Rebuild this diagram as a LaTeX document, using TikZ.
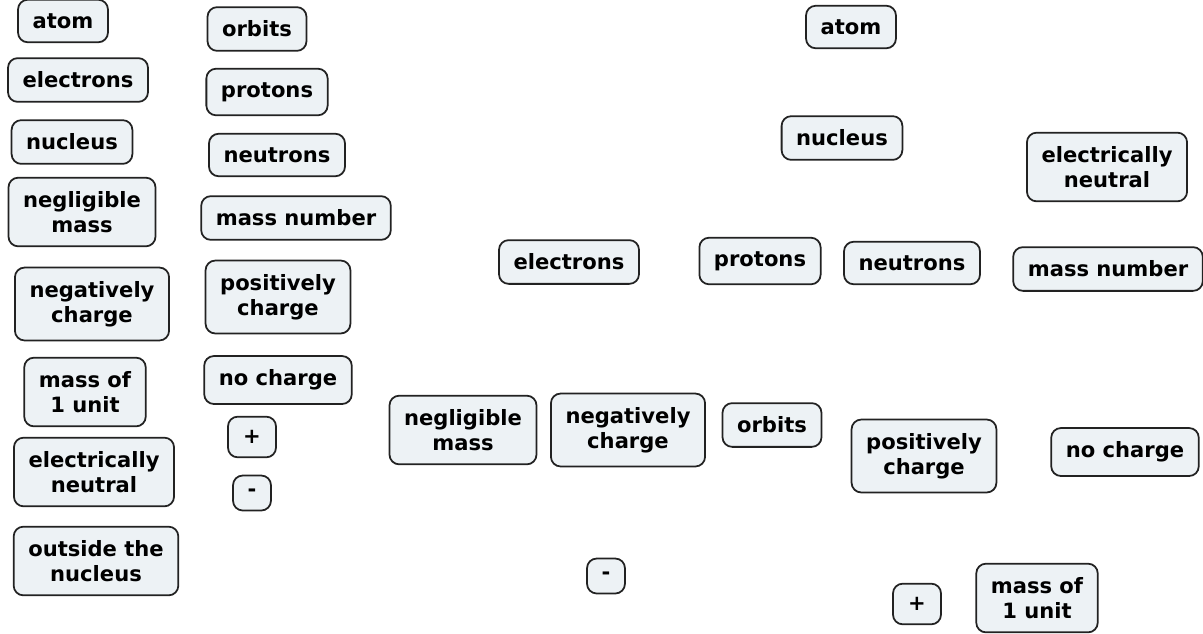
\documentclass[tikz,border=0pt]{standalone}
\usepackage{fontspec}
\setmainfont{DejaVu Sans}
\usepackage{tikz}
\definecolor{cardfill}{HTML}{EDF2F5}
\definecolor{cardline}{HTML}{222222}
\tikzset{
  card/.style={draw=cardline, line width=1pt, fill=cardfill, rounded corners=5.5pt,
    inner xsep=8.3pt, inner ysep=7.8pt, align=center,
    font=\bfseries\fontsize{12}{14.2}\selectfont},
  signcard/.style={card, minimum width=0.96cm, minimum height=0.8cm}
}

\begin{document}
\begin{tikzpicture}[x=0.02cm, y=-0.02cm]
\useasboundingbox (0,0) rectangle (1203,633);
% word list, first column
\node[card] (atomL) at (63,21) {atom};
\node[card] (electronsL) at (78,80) {electrons};
\node[card] (nucleusL) at (72,142) {nucleus};
\node[card] (negligibleL) at (82,212) {negligible\\mass};
\node[card] (negativelyL) at (92,304) {negatively\\charge};
\node[card] (massoneL) at (85,392) {mass of\\1 unit};
\node[card] (neutralL) at (94,472) {electrically\\neutral};
\node[card] (outsideL) at (96,561) {outside the\\nucleus};
% word list, second column
\node[card] (orbitsL) at (257,29) {orbits};
\node[card] (protonsL) at (267,92) {protons};
\node[card] (neutronsL) at (277,155) {neutrons};
\node[card] (massnumL) at (296,218) {mass number};
\node[card] (positivelyL) at (278,297) {positively\\charge};
\node[card] (nochargeL) at (278,380) {no charge};
\node[signcard] (plusL) at (252,437) {+};
\node[card] (minusL) at (252,493) {-};
% scattered cards
\node[card] (atom) at (851,27) {atom};
\node[card] (nucleus) at (842,138) {nucleus};
\node[card] (neutral) at (1107,167) {electrically\\neutral};
\node[card] (electrons) at (569,262) {electrons};
\node[card] (protons) at (760,261) {protons};
\node[card] (neutrons) at (912,263) {neutrons};
\node[card] (massnum) at (1108,269) {mass number};
\node[card] (negligible) at (463,430) {negligible\\mass};
\node[card] (negatively) at (628,430) {negatively\\charge};
\node[card] (orbits) at (772,425) {orbits};
\node[card] (positively) at (924,456) {positively\\charge};
\node[card] (nocharge) at (1125,452) {no charge};
\node[card] (minus) at (606,576) {-};
\node[signcard] (plus) at (917,604) {+};
\node[card] (massone) at (1037,598) {mass of\\1 unit};
\end{tikzpicture}
\end{document}
